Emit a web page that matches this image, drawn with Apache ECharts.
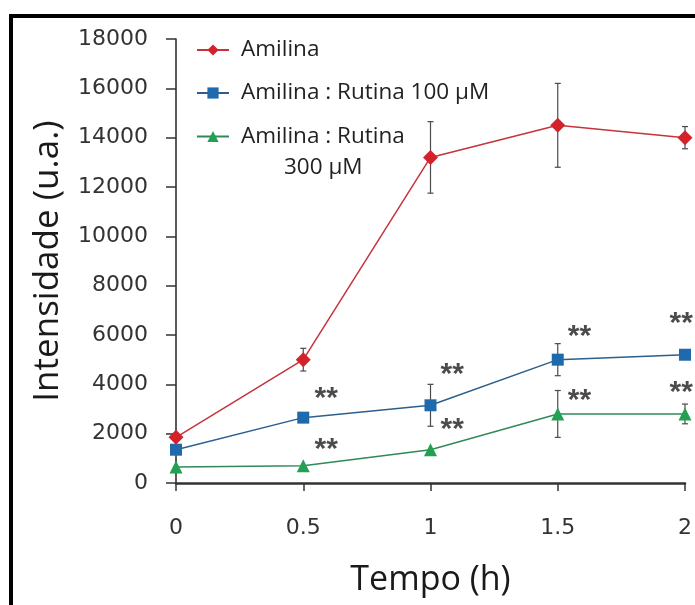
<!DOCTYPE html>
<html><head><meta charset="utf-8">
<script src="https://cdn.jsdelivr.net/npm/echarts@6/dist/echarts.min.js"></script>
<style>html,body{margin:0;padding:0;background:#fff}#c{width:695px;height:605px}</style>
</head><body><div id="c"></div>
<script>
// ---- data ----
const times = [0, 0.5, 1, 1.5, 2];
const seriesNames = ['Amilina', 'Amilina : Rutina 100 µM', 'Amilina : Rutina 300 µM'];
const amilina = [1850, 5000, 13200, 14500, 14000];
const amilinaErr = [0, 460, 1450, 1700, 450];
const rutina100 = [1350, 2650, 3150, 5000, 5200];
const rutina100Err = [0, 0, 850, 650, 0];
const rutina300 = [650, 700, 1350, 2800, 2800];
const rutina300Err = [0, 0, 0, 950, 400];
const yMin = 0, yMax = 18000, yStep = 2000;
const xMin = 0, xMax = 2, xStep = 0.5;
const sigText = '**';
const sigX = [0.59, 1.085, 1.585, 1.985];
const sig100Y = [3700, 4660, 6200, 6730];
const sig300Y = [1620, 2430, 3610, 3930];
const xTitle = 'Tempo (h)';
const yTitle = 'Intensidade (u.a.)';

// ---- styles ----
const colors = ['#d4222b', '#1f6aad', '#23a052'];
const lineColors = ['#c8333b', '#2c5f8c', '#2f8a58'];
const symbols = ['diamond', 'rect', 'triangle'];
const symbolSizes = [15, 12, 13];

const chart = echarts.init(document.getElementById('c'), null, {renderer: 'canvas'});

function pairs(xs, ys) { return xs.map((x, i) => [x, ys[i]]); }

function errSeries(vals, errs) {
  const data = [];
  times.forEach((t, i) => { if (errs[i] > 0) data.push([t, vals[i] - errs[i], vals[i] + errs[i]]); });
  return {
    type: 'custom', data: data, z: 1, silent: true,
    encode: {x: 0, y: [1, 2]},
    renderItem: function (params, api) {
      const x = api.value(0);
      const lo = api.coord([x, api.value(1)]);
      const hi = api.coord([x, api.value(2)]);
      const w = 3;
      const st = {stroke: '#4a4a4a', lineWidth: 1.2};
      return {type: 'group', children: [
        {type: 'line', shape: {x1: lo[0], y1: lo[1], x2: hi[0], y2: hi[1]}, style: st},
        {type: 'line', shape: {x1: lo[0] - w, y1: lo[1], x2: lo[0] + w, y2: lo[1]}, style: st},
        {type: 'line', shape: {x1: hi[0] - w, y1: hi[1], x2: hi[0] + w, y2: hi[1]}, style: st}
      ]};
    }
  };
}

function lineSeries(idx, vals) {
  return {
    name: seriesNames[idx], type: 'line', data: pairs(times, vals), z: 3 - idx + 2,
    symbol: symbols[idx], symbolSize: symbolSizes[idx], showSymbol: true,
    lineStyle: {color: lineColors[idx], width: 1.5},
    itemStyle: {color: colors[idx]},
    emphasis: {disabled: true}, animation: false
  };
}

function sigSeries(ys) {
  return {
    type: 'scatter', data: pairs(sigX, ys), symbolSize: 1, silent: true, z: 6,
    itemStyle: {color: 'rgba(0,0,0,0)'},
    label: {show: true, position: 'inside', formatter: sigText, fontFamily: 'Liberation Sans',
      fontWeight: 'bold', fontSize: 30, color: '#1e1e1e', offset: [0, 7]}
  };
}

const legendText = {fontFamily: 'Open Sans', fontSize: 22.5, color: '#222', lineHeight: 30, padding: [0, 0, 0, 7]};

const option = {
  animation: false,
  backgroundColor: '#fff',
  grid: {left: 176, right: 10, top: 39, bottom: 122, containLabel: false},
  legend: [
    {data: [seriesNames[0], seriesNames[1]], orient: 'vertical', left: 196, top: 35, padding: 0,
     itemWidth: 32, itemHeight: 14, itemGap: 13, textStyle: legendText, selectedMode: false},
    {data: [seriesNames[2]], orient: 'vertical', left: 196, top: 90, padding: 0,
     itemWidth: 32, itemHeight: 14, selectedMode: false,
     formatter: function (name) {
       const k = name.lastIndexOf(' ');
       const j = name.lastIndexOf(' ', k - 1);
       return '{p|\u00a0}\n{a|' + name.slice(0, j) + '}\n{b|' + name.slice(j + 1) + '}';
     },
     textStyle: Object.assign({}, legendText, {rich: {
       p: {fontFamily: 'Open Sans', fontSize: 22.5, lineHeight: 31},
       a: {fontFamily: 'Open Sans', fontSize: 22.5, lineHeight: 31, color: '#222'},
       b: {fontFamily: 'Open Sans', fontSize: 22.5, lineHeight: 31, color: '#222', padding: [0, 0, 0, 43]}
     }})}
  ],
  xAxis: {
    type: 'value', min: xMin, max: xMax, interval: xStep,
    name: xTitle, nameLocation: 'middle', nameGap: 80,
    nameTextStyle: {fontFamily: 'Open Sans', fontSize: 34, color: '#1a1a1a'},
    axisLine: {show: true, onZero: false, lineStyle: {color: '#333', width: 2.5}},
    axisTick: {show: true, length: 8, lineStyle: {color: '#333', width: 1.5}},
    axisLabel: {margin: 34, fontFamily: 'DejaVu Sans', fontSize: 22, color: '#333',
      formatter: v => String(v)},
    splitLine: {show: false}
  },
  yAxis: {
    type: 'value', min: yMin, max: yMax, interval: yStep,
    name: yTitle, nameLocation: 'middle', nameGap: 110, nameRotate: 90,
    nameTextStyle: {fontFamily: 'Open Sans', fontSize: 35, color: '#1a1a1a'},
    axisLine: {show: true, lineStyle: {color: '#333', width: 1.6}},
    axisTick: {show: true, length: 10, lineStyle: {color: '#333', width: 1.5}},
    axisLabel: {margin: 28, fontFamily: 'DejaVu Sans', fontSize: 22, color: '#333',
      formatter: v => String(v)},
    splitLine: {show: false}
  },
  graphic: [
    {type: 'rect', shape: {x: 9, y: 14, width: 686, height: 4}, style: {fill: '#000'}, silent: true},
    {type: 'rect', shape: {x: 9, y: 14, width: 4, height: 591}, style: {fill: '#000'}, silent: true}
  ],
  series: [
    errSeries(amilina, amilinaErr),
    errSeries(rutina100, rutina100Err),
    errSeries(rutina300, rutina300Err),
    lineSeries(2, rutina300),
    lineSeries(1, rutina100),
    lineSeries(0, amilina),
    sigSeries(sig100Y),
    sigSeries(sig300Y)
  ]
};
chart.setOption(option);
</script>
</body></html>
